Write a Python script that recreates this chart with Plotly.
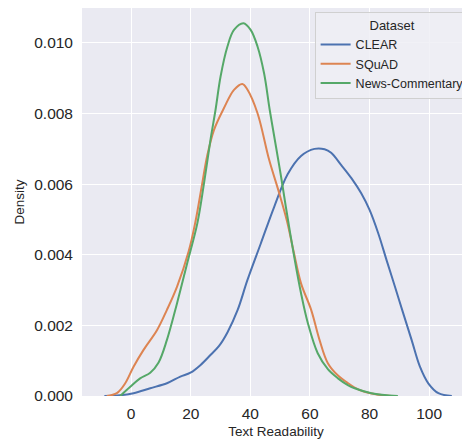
import plotly.graph_objects as go

clear_x = [-9.0, -3.7, 0.8, 6.4, 12.0, 16.5, 19.9, 23.3, 26.6, 29.5, 32.3, 35.7, 39.0, 43.5, 48.0, 52.5, 57.0, 61.5, 64.9, 67.1, 70.5, 73.9, 77.2, 80.0, 82.9, 85.7, 88.5, 91.3, 94.1, 96.9, 99.7, 103.1, 107.6]
clear_y = [0.0, 0.00002, 0.00008, 0.00022, 0.00036, 0.00055, 0.00066, 0.00088, 0.00116, 0.00142, 0.00180, 0.00243, 0.00328, 0.00432, 0.00536, 0.00628, 0.00680, 0.00700, 0.00699, 0.00689, 0.00654, 0.00617, 0.00574, 0.00527, 0.00461, 0.00385, 0.0031, 0.00234, 0.00159, 0.00083, 0.00036, 0.00008, 0.0]

squad_x = [-8.2, -4.8, -2.0, 0.8, 4.1, 8.7, 12.0, 15.4, 19.3, 21.6, 23.8, 25.5, 27.8, 31.1, 34.5, 37.3, 39.0, 42.4, 46.3, 49.7, 52.3, 54.5, 57.0, 60.4, 63.2, 66.0, 69.4, 72.5, 75.0, 78.3, 82.0, 87.3]
squad_y = [0.0, 0.00008, 0.00036, 0.00083, 0.0013, 0.00187, 0.00244, 0.0031, 0.00410, 0.00495, 0.00600, 0.00680, 0.00754, 0.00815, 0.00867, 0.00884, 0.00868, 0.00801, 0.00669, 0.00574, 0.00495, 0.0041, 0.00319, 0.00244, 0.00159, 0.00093, 0.00058, 0.00038, 0.00024, 0.00012, 0.00005, 0.0]

news_x = [-3.7, -0.3, 3.0, 6.4, 9.2, 12.0, 15.4, 18.8, 22.2, 24.4, 26.6, 28.3, 30.0, 32.3, 34.5, 37.7, 40.1, 42.4, 44.6, 46.5, 48.6, 50.3, 51.9, 54.7, 57.0, 59.3, 62.6, 66.0, 69.4, 72.7, 75.0, 80.6, 89.5]
news_y = [0.0, 0.00026, 0.0005, 0.00066, 0.00095, 0.00159, 0.00263, 0.00376, 0.00489, 0.006, 0.00725, 0.0081, 0.00905, 0.0099, 0.01037, 0.01056, 0.01037, 0.0099, 0.00914, 0.0081, 0.00706, 0.00621, 0.00536, 0.00395, 0.00291, 0.00206, 0.00121, 0.00076, 0.0005, 0.00031, 0.00022, 0.00008, 0.0]

x_ticks = [0, 20, 40, 60, 80, 100]
y_ticks = [0.0, 0.002, 0.004, 0.006, 0.008, 0.010]
y_tick_text = ["0.000", "0.002", "0.004", "0.006", "0.008", "0.010"]

series = [
    ("CLEAR", clear_x, clear_y, "#4C72B0"),
    ("SQuAD", squad_x, squad_y, "#DD8452"),
    ("News-Commentary", news_x, news_y, "#55A868"),
]

fig = go.Figure()
for name, xs, ys, col in series:
    fig.add_trace(go.Scatter(x=xs, y=ys, mode="lines", name=name,
                             line=dict(color=col, width=2, shape="spline", smoothing=1.0)))

# the page body adds an 8px offset; the figure is sized to compensate
fig.update_layout(
    width=462, height=435,
    margin=dict(l=74, r=0, t=0, b=47, autoexpand=False),
    paper_bgcolor="white",
    plot_bgcolor="#EAEAF2",
    font=dict(family="Arial, Liberation Sans, sans-serif", color="#262626"),
    showlegend=True,
    legend=dict(
        title=dict(text="Dataset", side="top center", font=dict(size=13)),
        x=0.999, y=0.99, xanchor="right", yanchor="top",
        bgcolor="rgba(238,238,244,0.85)", bordercolor="#D0D0D0", borderwidth=1,
        font=dict(size=12.5), itemwidth=30, tracegroupgap=0,
    ),
)
fig.update_xaxes(
    range=[-16.5, 113.7], tickvals=x_ticks, ticktext=[str(t) for t in x_ticks],
    showgrid=True, gridcolor="white", gridwidth=1, zeroline=False,
    tickfont=dict(size=15.5), ticks="", showline=False, automargin=False,
    ticklabelstandoff=6,
    title=dict(text="Text Readability", font=dict(size=13.5), standoff=6),
)
fig.update_yaxes(
    range=[0, 0.01099], tickvals=y_ticks, ticktext=y_tick_text,
    showgrid=True, gridcolor="white", gridwidth=1, zeroline=False,
    tickfont=dict(size=15.5), ticks="", showline=False, automargin=False,
    ticklabelstandoff=8,
    title=dict(text="Density", font=dict(size=13.5), standoff=6),
)
fig.write_html("out.html")
